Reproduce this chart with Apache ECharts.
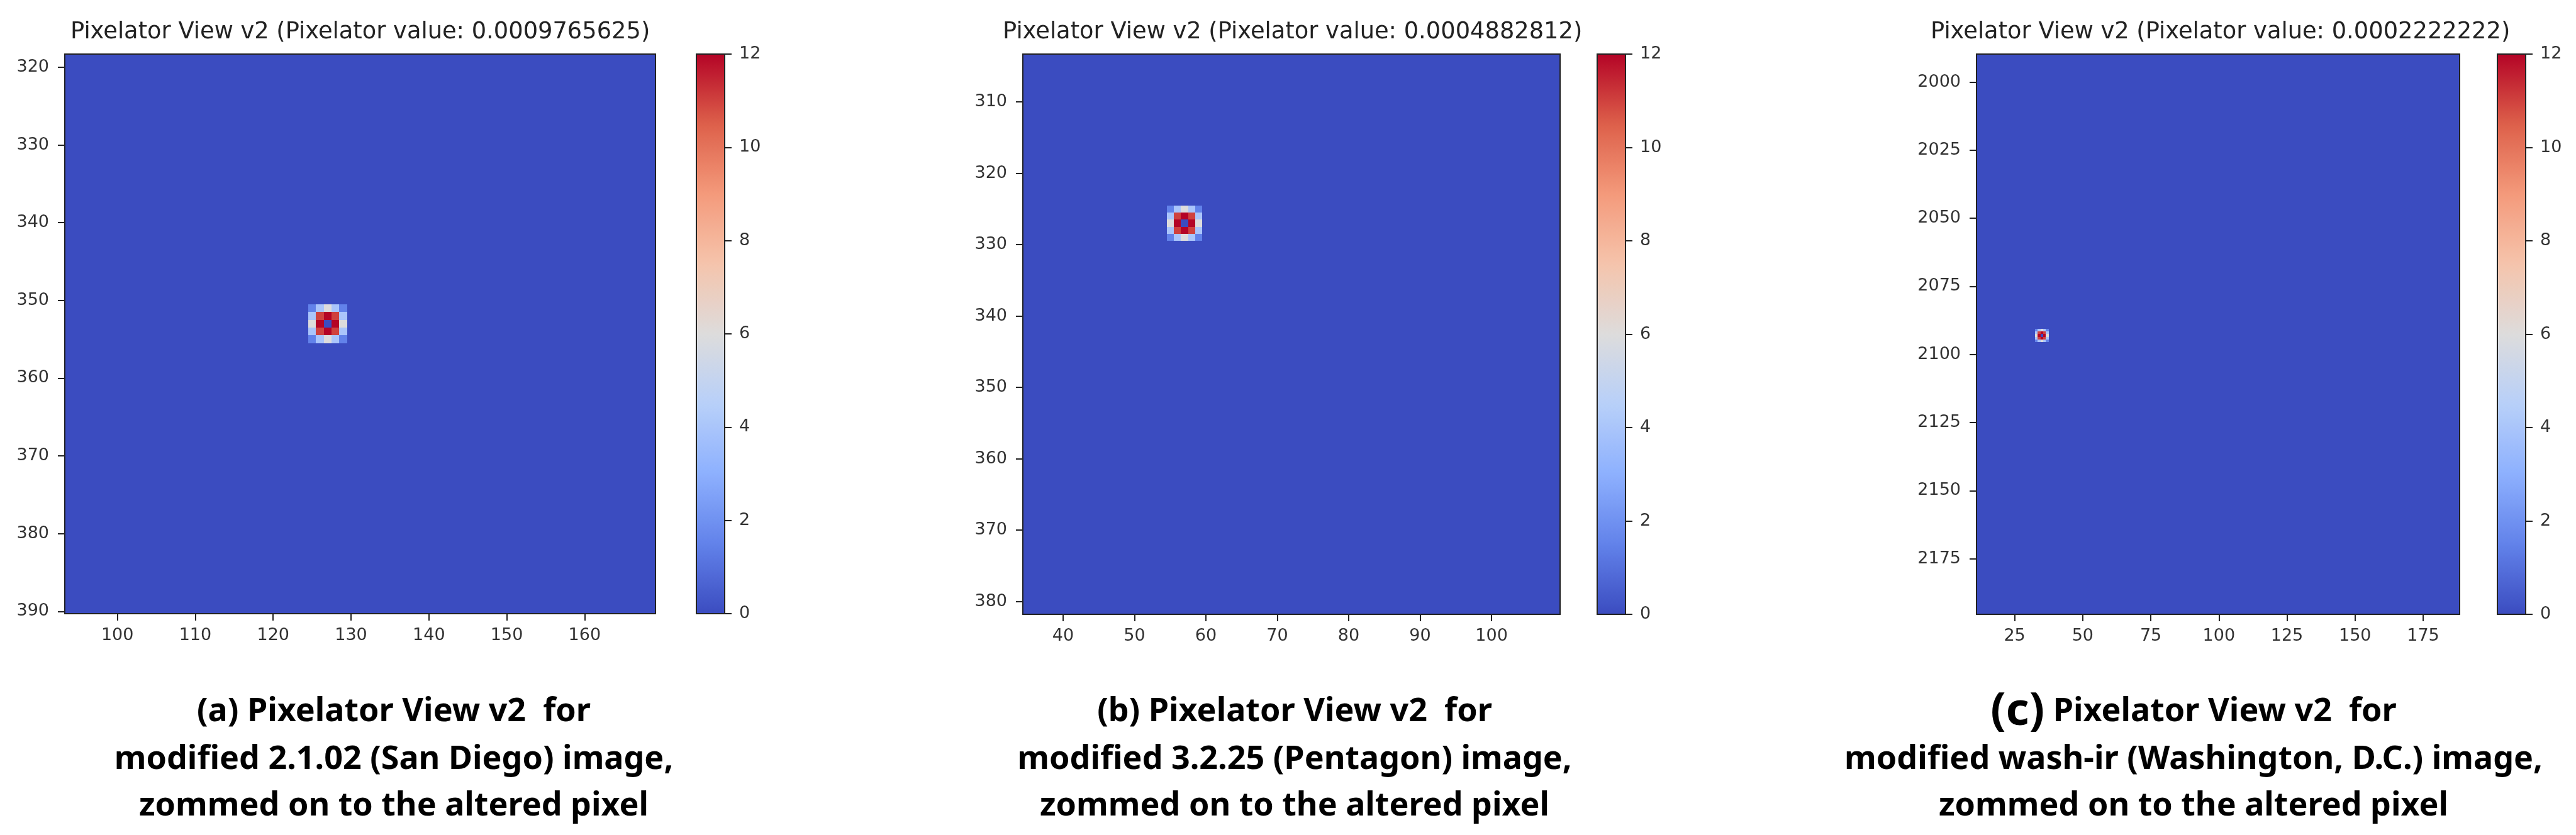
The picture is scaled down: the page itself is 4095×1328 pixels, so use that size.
<!DOCTYPE html>
<html><head><meta charset="utf-8">
<style>html,body{margin:0;padding:0;background:#fff}#c{width:4095px;height:1328px}</style>
<script src="https://cdn.jsdelivr.net/npm/echarts@6/dist/echarts.min.js"></script>
</head><body><div id="c"></div>
<script>
// Chart values
const panelTitles = [
  'Pixelator View v2 (Pixelator value: 0.0009765625)',
  'Pixelator View v2 (Pixelator value: 0.0004882812)',
  'Pixelator View v2 (Pixelator value: 0.0002222222)'
];
const xLimits = [[93.24, 169.1], [34.36, 109.6], [11, 188.4]];
const yLimits = [[318.3, 390.3], [303.3, 381.8], [1989.7, 2195.4]];
const xTickLabels = [
  [100, 110, 120, 130, 140, 150, 160],
  [40, 50, 60, 70, 80, 90, 100],
  [25, 50, 75, 100, 125, 150, 175]
];
const yTickLabels = [
  [320, 330, 340, 350, 360, 370, 380, 390],
  [310, 320, 330, 340, 350, 360, 370, 380],
  [2000, 2025, 2050, 2075, 2100, 2125, 2150, 2175]
];
const alteredPixelCentre = [[127, 353], [57, 327], [35, 2093]];
const alteredPixelValues = [
  [1.5, 4, 6, 4, 1.5],
  [4, 11, 12, 11, 4],
  [6, 12, 0, 12, 6],
  [4, 11, 12, 11, 4],
  [1.5, 4, 6, 4, 1.5]
];
const backgroundValue = 0;
const colorbarTicks = [0, 2, 4, 6, 8, 10, 12];
const coolwarm = ['#3b4cc0', '#6282ea', '#8db0fe', '#b8d0f9', '#dddcdc', '#f5c4ac', '#f49a7b', '#dd604a', '#b40426'];

// Layout (pixels)
const frames = [
  { left: 103, right: 1042, top: 86, bottom: 976, barLeft: 1107, titleLeft: 112, capX: 626 },
  { left: 1626, right: 2480, top: 86, bottom: 977, barLeft: 2539, titleLeft: 1594, capX: 2058 },
  { left: 3142, right: 3910, top: 86, bottom: 977, barLeft: 3970, titleLeft: 3069, capX: 3487 }
];
const barWidth = 45;
const tickFont = { fontFamily: 'DejaVu Sans', fontSize: 27, color: '#333',
                   formatter: v => String(v) };
const lineStyle = { color: '#222', width: 2 };

function cells(k) {
  const out = [];
  const [cx, cy] = alteredPixelCentre[k];
  const [x0, x1] = xLimits[k], [y0, y1] = yLimits[k];
  for (let y = Math.floor(y0); y <= Math.ceil(y1); y++) {
    for (let x = Math.floor(x0); x <= Math.ceil(x1); x++) {
      const row = alteredPixelValues[y - cy + 2];
      const v = row && row[x - cx + 2];
      out.push([x, y, v === undefined ? backgroundValue : v]);
    }
  }
  return out;
}
function renderCell(params, api) {
  const x = api.value(0), y = api.value(1);
  const a = api.coord([x - 0.5, y - 0.5]), b = api.coord([x + 0.5, y + 0.5]);
  const xa = Math.round(Math.min(a[0], b[0])), xb = Math.round(Math.max(a[0], b[0]));
  const ya = Math.round(Math.min(a[1], b[1])), yb = Math.round(Math.max(a[1], b[1]));
  return { type: 'rect', shape: { x: xa, y: ya, width: xb - xa, height: yb - ya },
           style: { fill: api.visual('color') } };
}
const bareAxis = { z: 10, silent: true, splitLine: { show: false }, axisTick: { show: false },
                   axisLabel: { show: false }, axisLine: { show: true, onZero: false, lineStyle } };

const grid = [], xAxis = [], yAxis = [], series = [], visualMap = [], title = [];
frames.forEach((f, k) => {
  // image panel
  const g = grid.length;
  grid.push({ left: f.left, top: f.top, width: f.right - f.left, height: f.bottom - f.top });
  const xi = xAxis.length, yi = yAxis.length;
  const range = { gridIndex: g, type: 'value' };
  xAxis.push({ ...bareAxis, ...range, position: 'bottom', min: xLimits[k][0], max: xLimits[k][1],
    axisTick: { show: true, length: 11, lineStyle, customValues: xTickLabels[k] },
    axisLabel: { show: true, margin: 21, ...tickFont, customValues: xTickLabels[k] } });
  xAxis.push({ ...bareAxis, ...range, position: 'top', min: xLimits[k][0], max: xLimits[k][1] });
  yAxis.push({ ...bareAxis, ...range, position: 'left', inverse: true, min: yLimits[k][0], max: yLimits[k][1],
    axisTick: { show: true, length: 11, lineStyle, customValues: yTickLabels[k] },
    axisLabel: { show: true, margin: 25, ...tickFont, customValues: yTickLabels[k] } });
  yAxis.push({ ...bareAxis, ...range, position: 'right', inverse: true, min: yLimits[k][0], max: yLimits[k][1] });
  series.push({ type: 'custom', xAxisIndex: xi, yAxisIndex: yi, data: cells(k), renderItem: renderCell,
    encode: { x: 0, y: 1 }, clip: true, silent: true, animation: false, progressive: 0 });
  visualMap.push({ type: 'continuous', seriesIndex: k, dimension: 2, min: 0, max: 12,
    left: f.barLeft, top: f.top, itemWidth: barWidth, itemHeight: f.bottom - f.top, padding: 0,
    calculable: false, hoverLink: false, text: null, inRange: { color: coolwarm } });
  // colour bar axes
  const b = grid.length;
  grid.push({ left: f.barLeft, top: f.top, width: barWidth, height: f.bottom - f.top });
  const barX = { gridIndex: b, type: 'value', min: 0, max: 1 };
  const barY = { gridIndex: b, type: 'value', min: 0, max: 12 };
  xAxis.push({ ...bareAxis, ...barX, position: 'bottom' }, { ...bareAxis, ...barX, position: 'top' });
  yAxis.push({ ...bareAxis, ...barY, position: 'left' });
  yAxis.push({ ...bareAxis, ...barY, position: 'right',
    axisTick: { show: true, length: 11, lineStyle, customValues: colorbarTicks },
    axisLabel: { show: true, margin: 23, ...tickFont, customValues: colorbarTicks } });
  title.push({ text: panelTitles[k], left: f.titleLeft, top: 33, padding: 0,
    textStyle: { fontFamily: 'DejaVu Sans', fontSize: 36.8, fontWeight: 'normal', color: '#222' } });
});

// Captions
const captionLines = [
  ['(a) Pixelator View v2  for', 'modified 2.1.02 (San Diego) image,', 'zommed on to the altered pixel'],
  ['(b) Pixelator View v2  for', 'modified 3.2.25 (Pentagon) image,', 'zommed on to the altered pixel'],
  ['{big|(c)} Pixelator View v2  for', 'modified wash-ir (Washington, D.C.) image,', 'zommed on to the altered pixel']
];
const captionY = [1132, 1208, 1282];
const capFont = { fontFamily: 'Noto Sans', fontWeight: 'bold', fontSize: 52, fill: '#000' };
const graphic = [];
captionLines.forEach((lines, k) => lines.forEach((t, i) => {
  graphic.push({ type: 'text', x: frames[k].capX, y: captionY[i], silent: true,
    style: { ...capFont, text: t, align: 'center', verticalAlign: 'middle',
      rich: { big: { fontFamily: 'Noto Sans', fontWeight: 'bold', fontSize: 72, fill: '#000' } } } });
}));

const chart = echarts.init(document.getElementById('c'), null, { renderer: 'canvas' });
chart.setOption({ animation: false, backgroundColor: '#fff', title, grid, xAxis, yAxis, series, visualMap, graphic });
</script></body></html>
